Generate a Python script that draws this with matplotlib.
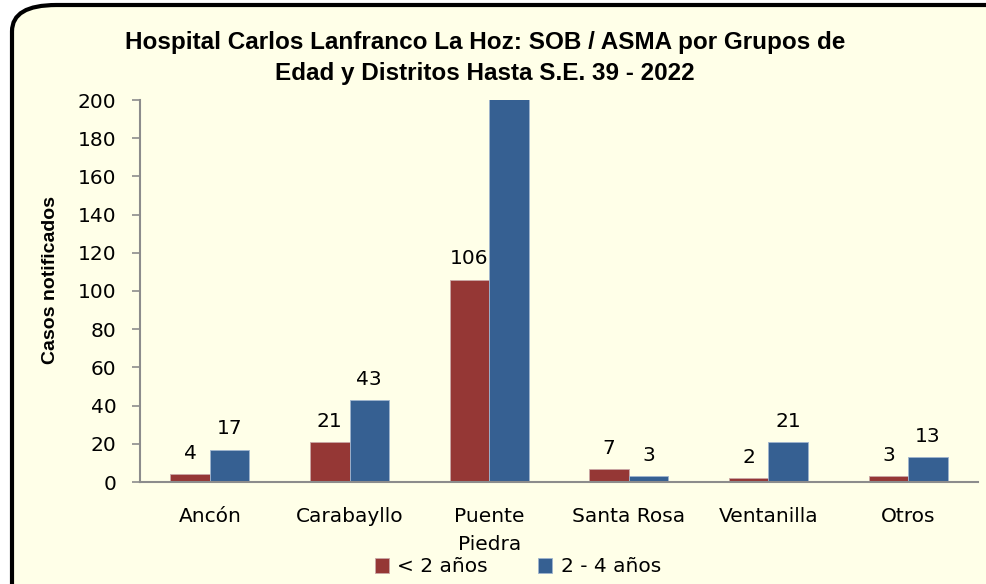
import matplotlib
matplotlib.use("Agg")
import matplotlib.pyplot as plt
import numpy as np
from matplotlib.patches import FancyBboxPatch

# data
districts = ["Ancón", "Carabayllo", "Puente\nPiedra", "Santa Rosa", "Ventanilla", "Otros"]
menor_2 = [4, 21, 106, 7, 2, 3]
de_2_a_4 = [17, 43, 215, 3, 21, 13]
series_names = ["< 2 años", "2 - 4 años"]
y_ticks = list(range(0, 201, 20))

RED = "#953735"
BLUE = "#366092"
BG = "#FFFFE8"
FS = 14.5

fig = plt.figure(figsize=(9.86, 5.84), dpi=100)
fig.patch.set_facecolor("white")

# rounded chart frame (runs off the right/bottom edge like the reference)
frame = FancyBboxPatch((12 / 986, -0.05), 1.2, 1.05 - 5 / 584,
                       boxstyle="round,pad=0,rounding_size=0.045",
                       transform=fig.transFigure, facecolor=BG,
                       edgecolor="black", linewidth=3, zorder=-10)
fig.add_artist(frame)

ax = fig.add_axes([140 / 986, 1 - 482 / 584, (978 - 140) / 986, (482 - 100) / 584])
ax.set_facecolor("none")
ax.set_zorder(5)

x = np.arange(len(districts))
w = 0.283
b1 = ax.bar(x - w / 2, menor_2, w, color=RED, edgecolor="#c9a8a7", linewidth=0.6,
            label=series_names[0], zorder=2)
b2 = ax.bar(x + w / 2, de_2_a_4, w, color=BLUE, edgecolor="#9fb4cf", linewidth=0.6,
            label=series_names[1], zorder=2)

ax.set_ylim(0, 200)
ax.set_xlim(-0.5, len(districts) - 0.5)
ax.set_yticks(y_ticks)

for bars, vals in ((b1, menor_2), (b2, de_2_a_4)):
    for rect, v in zip(bars, vals):
        if v > 200:
            continue
        ax.annotate(str(v), (rect.get_x() + rect.get_width() / 2, v),
                    xytext=(0, 8), textcoords="offset points",
                    ha="center", va="bottom", fontsize=FS, color="black")

ax.set_xticks(x)
ax.set_xticklabels(districts, fontsize=FS, linespacing=1.6)
ax.tick_params(axis="x", length=0, pad=18)
ax.tick_params(axis="y", labelsize=FS, length=6, width=1.2, color="#8c8c8c", pad=11)
for s in ("top", "right"):
    ax.spines[s].set_visible(False)
for s in ("left", "bottom"):
    ax.spines[s].set_color("#8c8c8c")
    ax.spines[s].set_linewidth(1.5)

ax.set_ylabel("Casos notificados", fontsize=14, fontweight="bold",
              family="Liberation Sans")
ax.yaxis.set_label_coords((59 - 140) / 838, (482 - 280) / 382)

fig.text(485 / 986, 1 - 58 / 584,
         "Hospital Carlos Lanfranco La Hoz: SOB / ASMA por Grupos de\nEdad y Distritos Hasta S.E. 39 - 2022",
         ha="center", va="center", fontsize=17.5, fontweight="bold",
         family="Liberation Sans", linespacing=1.4, zorder=6)

fig.legend(handles=[b1, b2], labels=series_names, loc="center",
           bbox_to_anchor=(518 / 986, 1 - 567 / 584), ncol=2, frameon=False,
           fontsize=FS, handlelength=0.7, handleheight=0.7, handletextpad=0.4,
           columnspacing=2.5, borderpad=0)

fig.savefig("out.png", dpi=100, facecolor=fig.get_facecolor())
